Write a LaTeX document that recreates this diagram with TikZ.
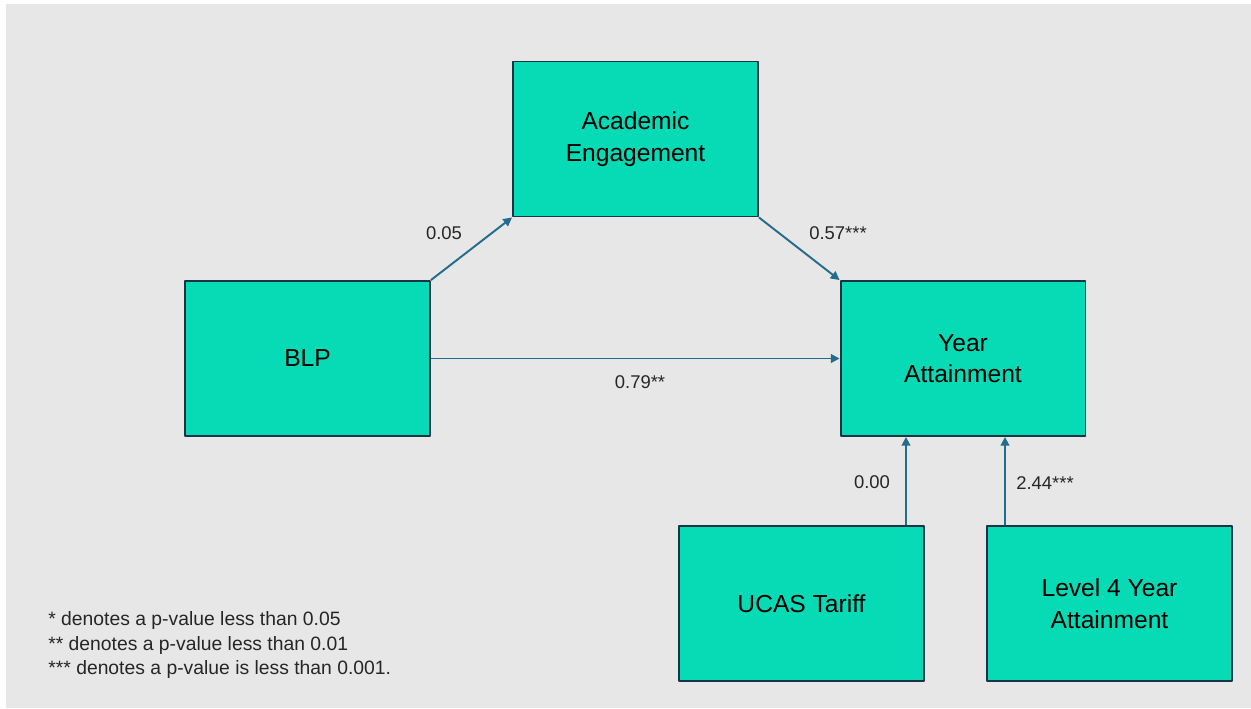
\documentclass[tikz,border=0pt]{standalone}
\usepackage{fontspec}
\setmainfont{Liberation Sans}
\usetikzlibrary{arrows.meta}
\definecolor{boxfill}{HTML}{07DBB5}
\definecolor{boxline}{HTML}{1B3445}
\definecolor{arrline}{HTML}{246C8C}
\definecolor{bggray}{HTML}{E7E7E7}
\begin{document}
\begin{tikzpicture}[x=0.02cm, y=-0.02cm, line join=round,
    var/.style={draw=boxline, line width=1.1pt, fill=boxfill, minimum width=4.9cm, minimum height=3.1cm, align=center, font=\fontsize{14}{18}\selectfont, inner sep=0pt},
    arr/.style={draw=arrline, line width=1.1pt, -{Triangle[width=5pt,length=5pt]}},
    coef/.style={font=\fontsize{10.5}{12}\selectfont, text=black!85}]
	\useasboundingbox (0,0) rectangle (1251,708);
	\fill[white] (0,0) rectangle (1251,708);
	\fill[bggray] (6,4) rectangle (1251,708);
	% variables
	\node[var] (ae) at (635.5,139) {Academic\\Engagement};
	\node[var] (blp) at (307.5,358.5) {BLP};
	\node[var] (ya) at (963,358.5) {Year\\Attainment};
	\node[var] (ucas) at (801.5,603.5) {UCAS Tariff};
	\node[var] (lvl) at (1109.5,603.5) {Level 4 Year\\Attainment};
	% paths
	\draw[arr] (blp.north east) -- (ae.south west);
	\draw[arr] (ae.south east) -- (ya.north west);
	\draw[arr] (blp.east) -- (ya.west);
	\draw[arr] (ucas.north -| 906,0) -- (ya.south -| 906,0);
	\draw[arr] (lvl.north -| 1005,0) -- (ya.south -| 1005,0);
	% coefficients
	\node[coef] (c1) at (444,233) {0.05};
	\node[coef] (c2) at (838,233) {0.57***};
	\node[coef] (c3) at (640,382) {0.79**};
	\node[coef] (c4) at (872,482) {0.00};
	\node[coef] (c5) at (1045,483) {2.44***};
	% legend
	\node[coef, anchor=west, align=left, font=\fontsize{11}{14}\selectfont, inner sep=0pt] (note) at (48,645) {* denotes a p-value less than 0.05\\** denotes a p-value less than 0.01\\*** denotes a p-value is less than 0.001.};
\end{tikzpicture}
\end{document}
